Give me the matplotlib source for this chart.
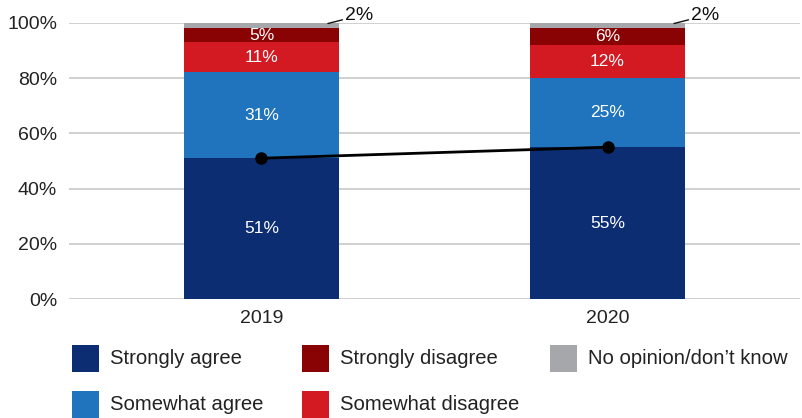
import matplotlib
matplotlib.use("Agg")
import matplotlib.pyplot as plt
from matplotlib.patches import Rectangle
import numpy as np

plt.rcParams["font.family"] = ["Liberation Sans", "DejaVu Sans"]

years = ["2019", "2020"]
series_names = ["Strongly agree", "Somewhat agree", "Somewhat disagree",
                "Strongly disagree", "No opinion/don't know"]
strongly_agree = [51, 55]
somewhat_agree = [31, 25]
somewhat_disagree = [11, 12]
strongly_disagree = [5, 6]
no_opinion = [2, 2]

colors = {
    "Strongly agree": "#0c2d72",
    "Somewhat agree": "#1f74bd",
    "Somewhat disagree": "#d31a22",
    "Strongly disagree": "#8a0304",
    "No opinion/don't know": "#a6a7aa",
}
values = [strongly_agree, somewhat_agree, somewhat_disagree,
          strongly_disagree, no_opinion]

fig = plt.figure(figsize=(8.02, 4.18), dpi=100)
ax = fig.add_axes([69 / 802, 1 - 299.3 / 418, 731 / 802, 276.6 / 418])

x = np.arange(len(years))
width = 0.448
bottom = np.zeros(len(years))
for name, vals in zip(series_names, values):
    vals = np.array(vals, dtype=float)
    ax.bar(x, vals, width, bottom=bottom, color=colors[name], zorder=2,
           linewidth=0)
    for xi, b, v in zip(x, bottom, vals):
        if name == "No opinion/don't know":
            top = b + v
            ax.annotate(f"{int(v)}%", xy=(xi + width / 2 - 0.032, top - 0.3),
                        xytext=(xi + width / 2 + 0.018, top + 2.6),
                        textcoords="data", fontsize=14, color="#111111",
                        va="center", ha="left", annotation_clip=False,
                        arrowprops=dict(arrowstyle="-", color="#111111",
                                        lw=1.0, shrinkA=0, shrinkB=0))
        else:
            ax.text(xi, b + v / 2, f"{int(v)}%", ha="center", va="center",
                    color="white", fontsize=12.5, zorder=4)
    bottom += vals

# trend line over the "Strongly agree" share
ax.plot(x, strongly_agree, color="black", lw=2, marker="o", markersize=8,
        zorder=5)

ax.set_xlim(-0.556, 1.556)
ax.set_ylim(0, 100)
ax.set_yticks(np.arange(0, 101, 20))
ax.set_yticklabels([f"{v}%" for v in range(0, 101, 20)])
ax.set_xticks(x)
ax.set_xticklabels(years)
ax.tick_params(axis="both", length=0, labelsize=14, colors="#222222")
ax.tick_params(axis="y", pad=8.6)
ax.tick_params(axis="x", pad=8)
ax.yaxis.grid(True, color="#c8c8c8", lw=1.2, zorder=0)
ax.set_axisbelow(True)
for s in ax.spines.values():
    s.set_visible(False)

# legend, laid out in three columns
legend_pos = [
    ("Strongly agree", 72, 358),
    ("Somewhat agree", 72, 404),
    ("Strongly disagree", 302, 358),
    ("Somewhat disagree", 302, 404),
    ("No opinion/don't know", 550, 358),
]
sq = 27
for name, px, py in legend_pos:
    fig.add_artist(Rectangle((px / 802, 1 - (py + sq / 2) / 418),
                             sq / 802, sq / 418, transform=fig.transFigure,
                             color=colors[name], lw=0))
    label = name.replace("'", "\u2019")
    fig.text((px + sq + 11) / 802, 1 - py / 418, label, fontsize=14.6,
             color="#222222", va="center", ha="left")

fig.savefig("out.png", dpi=100)
